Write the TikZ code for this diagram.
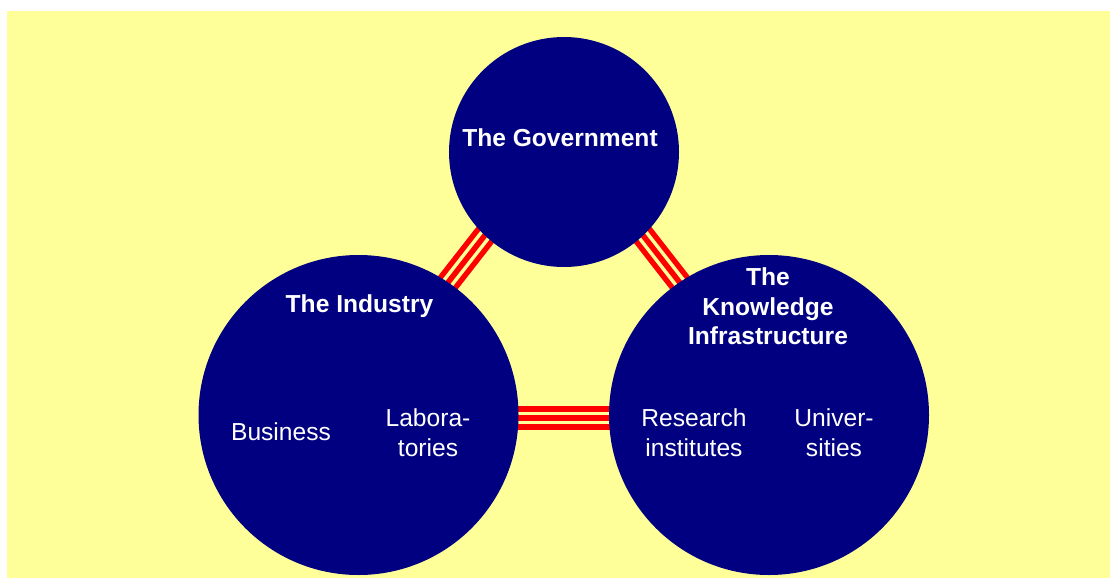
\documentclass[tikz,border=0pt]{standalone}
\usepackage{fontspec}
\setmainfont{Liberation Sans}
\usetikzlibrary{positioning}
\definecolor{navyc}{RGB}{0,0,128}
\definecolor{bgyel}{RGB}{255,255,153}
\definecolor{linkred}{RGB}{255,0,0}
\pgfdeclarelayer{background}
\pgfsetlayers{background,main}
\tikzset{
  ball/.style={circle, fill=navyc, draw=none, inner sep=0pt},
  lbl/.style={text=white, inner sep=0pt, align=center, font=\fontsize{24.6}{29.5}\selectfont},
  blbl/.style={lbl, font=\fontsize{24.6}{29.5}\selectfont\bfseries},
  linkouter/.style={draw=linkred, line width=5.5pt, double=bgyel, double distance=12.5pt},
  linkinner/.style={draw=linkred, line width=5.5pt},
}
\begin{document}
\begin{tikzpicture}[x=1pt, y=-1pt]
\useasboundingbox (0,0) rectangle (1110,578);
\node[ball, minimum size=230pt] (gov) at (564,152) {};
\node[ball, minimum size=320pt] (ind) at (358.5,415) {};
\node[ball, minimum size=320pt] (know) at (769,415) {};
\begin{pgfonlayer}{background}
  \fill[bgyel] (7,11) rectangle (1110,578);
  \draw[linkouter] ([shift={(-8.7,-6.8)}]gov.center) -- ([shift={(-8.7,-6.8)}]ind.center);
  \draw[linkinner] ([shift={(-8.7,-6.8)}]gov.center) -- ([shift={(-8.7,-6.8)}]ind.center);
  \draw[linkouter] ([shift={(8.7,-6.8)}]gov.center) -- ([shift={(8.7,-6.8)}]know.center);
  \draw[linkinner] ([shift={(8.7,-6.8)}]gov.center) -- ([shift={(8.7,-6.8)}]know.center);
  \draw[linkouter] ([shift={(0,3)}]ind.center) -- ([shift={(0,3)}]know.center);
  \draw[linkinner] ([shift={(0,3)}]ind.center) -- ([shift={(0,3)}]know.center);
\end{pgfonlayer}
\node[blbl, anchor=base] (govt) at (560,146.7) {The Government};
\node[blbl, anchor=base] (indt) at (359.5,312.7) {The Industry};
\node[lbl, anchor=base] (bus) at (281,440) {Business};
\node[lbl] (lab) at (428,432.6) {Labora-\\tories};
\node[blbl] (knowt) at (768,306.7) {The\\Knowledge\\Infrastructure};
\node[lbl] (res) at (694,432.6) {Research\\institutes};
\node[lbl] (uni) at (834,432.6) {Univer-\\sities};
\end{tikzpicture}
\end{document}
